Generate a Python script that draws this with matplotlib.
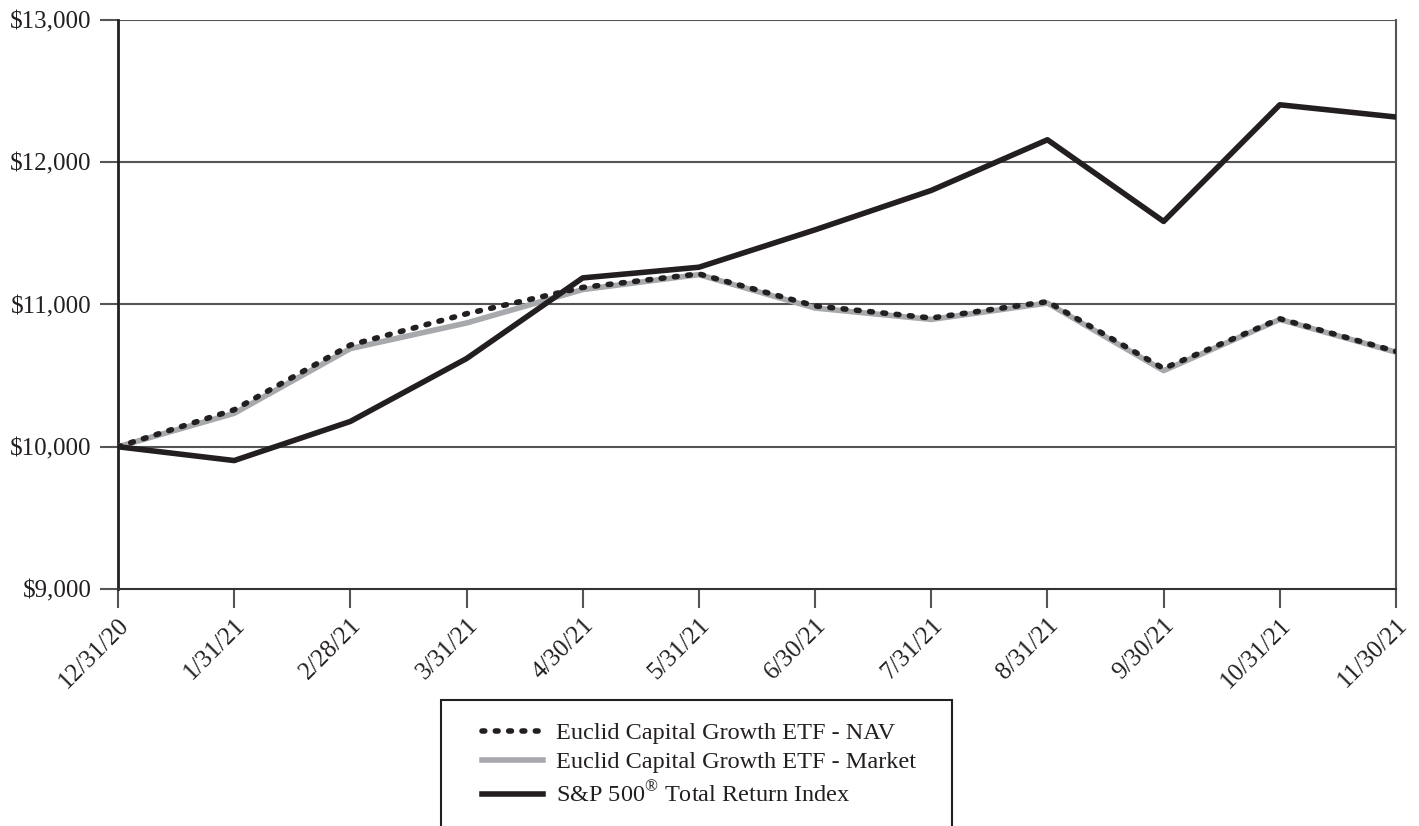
import matplotlib
matplotlib.use("Agg")
import matplotlib.pyplot as plt
from matplotlib.patches import Rectangle
from matplotlib.lines import Line2D

dates = ["12/31/20", "1/31/21", "2/28/21", "3/31/21", "4/30/21", "5/31/21",
         "6/30/21", "7/31/21", "8/31/21", "9/30/21", "10/31/21", "11/30/21"]
nav = [10000, 10260, 10715, 10935, 11120, 11215, 10990, 10905, 11020, 10550, 10900, 10670]
market = [10000, 10235, 10690, 10870, 11105, 11210, 10975, 10895, 11010, 10535, 10895, 10665]
sp500 = [10000, 9903, 10178, 10620, 11187, 11262, 11525, 11802, 12158, 11584, 12404, 12318]
yticks = [9000, 10000, 11000, 12000, 13000]
ytick_labels = ["$9,000", "$10,000", "$11,000", "$12,000", "$13,000"]
labels = ["Euclid Capital Growth ETF - NAV", "Euclid Capital Growth ETF - Market",
          "S&P 500$^{\\circledR}$ Total Return Index"]

plt.rcParams['font.family'] = ['Liberation Serif', 'DejaVu Serif']
plt.rcParams['mathtext.fontset'] = 'custom'
plt.rcParams['mathtext.rm'] = 'Liberation Serif'

fig = plt.figure(figsize=(14.19, 8.26), dpi=100)
ax = fig.add_axes([118/1419, 1-589/826, (1396-118)/1419, (589-20)/826])

x = list(range(len(dates)))
dots = (0, (0.5, 1.9))
ax.plot(x, market, color="#a7a9ac", lw=4, solid_capstyle='butt', zorder=3)
ax.plot(x, nav, color="#231f20", lw=4, linestyle=dots, dash_capstyle='round', zorder=4)
ax.plot(x, sp500, color="#231f20", lw=4, zorder=5)

ax.set_xlim(0, len(dates)-1)
ax.set_ylim(9000, 13000)
ax.set_yticks(yticks)
ax.set_yticklabels(ytick_labels, fontsize=18, color="#231f20")
ax.set_xticks(x)
ax.set_xticklabels(dates, rotation=45, ha='right', rotation_mode='anchor', fontsize=18, color="#231f20")
ax.tick_params(axis='y', length=13, width=1.5, color="#555555", pad=6)
ax.tick_params(axis='x', length=14, width=1.5, color="#555555", pad=4)
for yv in yticks[1:]:
    ax.axhline(yv, color="#555555", lw=1.5, zorder=1)
ax.spines['top'].set_visible(False)
ax.spines['left'].set_color("#231f20")
ax.spines['left'].set_linewidth(2)
ax.spines['bottom'].set_color("#333333")
ax.spines['bottom'].set_linewidth(1.5)
ax.spines['right'].set_color("#555555")
ax.spines['right'].set_linewidth(1.5)

# legend box extending past bottom edge
rect = Rectangle((441/1419, -0.05), (952-441)/1419, 1-700/826+0.05, transform=fig.transFigure,
                 fill=False, edgecolor="#231f20", lw=1.5, clip_on=False)
fig.patches.append(rect)
handles = [Line2D([], [], color="#231f20", lw=4, linestyle=dots, dash_capstyle='round'),
           Line2D([], [], color="#a7a9ac", lw=4),
           Line2D([], [], color="#231f20", lw=4)]
fig.legend(handles, labels, loc='upper left', bbox_to_anchor=(470/1419, 1-710/826),
           frameon=False, fontsize=17.5, handlelength=2.5, handletextpad=0.55, labelspacing=0.3,
           borderpad=0, labelcolor="#231f20")

fig.savefig("out.png", dpi=100)
